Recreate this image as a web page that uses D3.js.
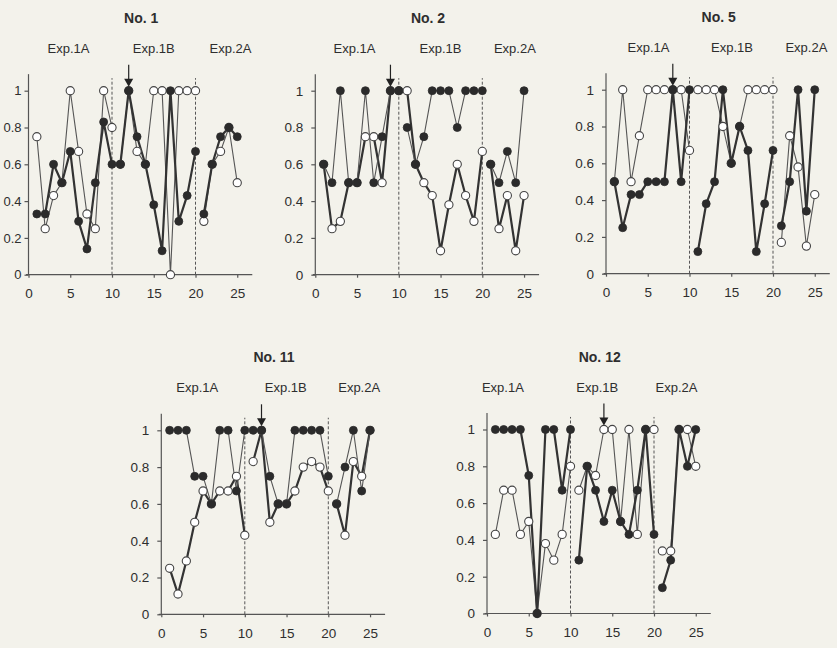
<!DOCTYPE html>
<html><head><meta charset="utf-8">
<script src="https://cdn.jsdelivr.net/npm/d3@7"></script>
<style>
html,body{margin:0;padding:0;background:#f3f2eb;}
svg{display:block;}
text{font-family:"Liberation Sans",Arial,sans-serif;fill:#2e2e2e;}
</style></head>
<body>
<svg id="chart" width="837" height="648"></svg>
<script>
const sessions = d3.range(1, 26);
const yTicks = [0, 0.2, 0.4, 0.6, 0.8, 1];
const xTicks = [0, 5, 10, 15, 20, 25];
const expLabels = ["Exp.1A", "Exp.1B", "Exp.2A"];
const panelTitles = ["No. 1", "No. 2", "No. 5", "No. 11", "No. 12"];

const no1Filled = [0.33,0.33,0.6,0.5,0.67,0.29,0.14,0.5,0.83,0.6, 0.6,1,0.75,0.6,0.38,0.13,1,0.29,0.43,0.67, 0.33,0.6,0.75,0.8,0.75];
const no1Open   = [0.75,0.25,0.43,0.5,1,0.67,0.33,0.25,1,0.8, 0.6,1,0.67,0.6,1,1,0,1,1,1, 0.29,0.6,0.67,0.8,0.5];
const no2Filled = [0.6,0.5,1,0.5,0.5,1,0.5,0.75,1,1, 0.8,0.6,0.75,1,1,1,0.8,1,1,1, 0.6,0.5,0.67,0.5,1];
const no2Open   = [0.6,0.25,0.29,0.5,0.5,0.75,0.75,0.5,1,1, 1,0.6,0.5,0.43,0.13,0.38,0.6,0.43,0.29,0.67, 0.6,0.25,0.43,0.13,0.43];
const no5Filled = [0.5,0.25,0.43,0.43,0.5,0.5,0.5,1,0.5,1, 0.12,0.38,0.5,1,0.6,0.8,0.67,0.12,0.38,0.67, 0.26,0.5,1,0.34,1];
const no5Open   = [0.5,1,0.5,0.75,1,1,1,1,1,0.67, 1,1,1,0.8,0.6,0.8,1,1,1,1, 0.17,0.75,0.58,0.15,0.43];
const no11Filled = [1,1,1,0.75,0.75,0.6,1,1,0.67,1, 1,1,0.75,0.6,0.6,1,1,1,1,0.75, 0.6,0.8,1,0.67,1];
const no11Open   = [0.25,0.11,0.29,0.5,0.67,0.6,0.67,0.67,0.75,0.43, 0.83,1,0.5,0.6,0.6,0.67,0.8,0.83,0.8,0.67, 0.6,0.43,0.83,0.75,1];
const no12Filled = [1,1,1,1,0.75,0,1,1,0.67,1, 0.29,0.8,0.67,0.5,0.67,0.5,0.43,0.67,1,0.43, 0.14,0.29,1,0.8,1];
const no12Open   = [0.43,0.67,0.67,0.43,0.5,0,0.38,0.29,0.43,0.8, 0.67,0.8,0.75,1,1,0.5,1,0.43,1,1, 0.34,0.34,1,1,0.8];

const arrowSessions = [12, 9, 8, 12, 14];
const expLabelPos = [[4.8,15,24.2],[4.7,15,23.9],[5.1,15.1,24],[4.3,14.9,23.7],[1.9,13.2,22.7]];

const panels = [
  {title: panelTitles[0], filled: no1Filled, open: no1Open, arrow: arrowSessions[0], exp: expLabelPos[0], ox: 28.5, oy: 274.7, thick: "filled", yPad: 3, yFont: 13},
  {title: panelTitles[1], filled: no2Filled, open: no2Open, arrow: arrowSessions[1], exp: expLabelPos[1], ox: 315.3, oy: 274.7, thick: "open", yPad: 8, yFont: 13.5},
  {title: panelTitles[2], filled: no5Filled, open: no5Open, arrow: arrowSessions[2], exp: expLabelPos[2], ox: 606, oy: 273.7, thick: "filled", yPad: 8, yFont: 13.5},
  {title: panelTitles[3], filled: no11Filled, open: no11Open, arrow: arrowSessions[3], exp: expLabelPos[3], ox: 161.3, oy: 614.3, thick: "open", yPad: 8, yFont: 13.5},
  {title: panelTitles[4], filled: no12Filled, open: no12Open, arrow: arrowSessions[4], exp: expLabelPos[4], ox: 487, oy: 613.5, thick: "filled", yPad: 8, yFont: 13.5}
];

const svg = d3.select("#chart");
const unitX = 8.35, unitY = 184;
const xMin = -0.3, xMax = 26.8, yMax = 1.09;

function segOf(s){ return s <= 10 ? 0 : (s <= 20 ? 1 : 2); }

panels.forEach((p, pi) => {
  const x = d3.scaleLinear().domain([0, 1]).range([p.ox, p.ox + unitX]);
  const y = d3.scaleLinear().domain([0, 1]).range([p.oy, p.oy - unitY]);
  const g = svg.append("g");

  g.append("text").attr("x", x(13.5)).attr("y", y(0) - 252)
    .attr("text-anchor", "middle").attr("font-size", 14).attr("font-weight", "bold").text(p.title);
  expLabels.forEach((t, i) => {
    g.append("text").attr("x", x(p.exp[i])).attr("y", y(0) - 222)
      .attr("text-anchor", "middle").attr("font-size", 13).text(t);
  });

  const xAxis = d3.axisBottom(x).tickValues(xTicks).tickFormat(d3.format("d")).tickSize(3).tickPadding(11).tickSizeOuter(0);
  const yAxis = d3.axisLeft(y).tickValues(yTicks).tickFormat(d => d === 0 || d === 1 ? String(d) : d3.format(".1f")(d)).tickSize(4).tickPadding(p.yPad).tickSizeOuter(0);
  const xa = g.append("g").attr("transform", `translate(0,${y(0)})`).call(xAxis);
  xa.select(".domain").attr("d", `M${x(xMin)},0H${x(xMax)}`);
  const ya = g.append("g").attr("transform", `translate(${x(0)},0)`).call(yAxis);
  ya.select(".domain").attr("d", `M0,${y(0)}V${y(yMax)}`);
  [xa, ya].forEach(a => {
    a.selectAll(".domain, line").attr("stroke", "#555").attr("stroke-width", 1.2);
    a.selectAll("text").attr("font-size", 13.5).attr("fill", "#2e2e2e").attr("font-family", "Liberation Sans, Arial, sans-serif");
  });
  ya.selectAll("text").attr("font-size", p.yFont);

  [10, 20].forEach(v => {
    g.append("line").attr("x1", x(v)).attr("x2", x(v)).attr("y1", y(0)).attr("y2", y(yMax) + 4)
      .attr("stroke", "#555").attr("stroke-width", 1).attr("stroke-dasharray", "3,2");
  });

  const line = d3.line().x(d => x(d.s)).y(d => y(d.v));
  const drawLines = (vals, w, col) => {
    [0, 1, 2].forEach(k => {
      const pts = sessions.map((s, i) => ({s, v: vals[i]})).filter(d => segOf(d.s) === k && d.v != null);
      g.append("path").attr("d", line(pts)).attr("fill", "none").attr("stroke", col).attr("stroke-width", w).attr("stroke-linejoin", "round");
    });
  };
  drawLines(p.open, p.thick === "open" ? 2.2 : 1.1, p.thick === "open" ? "#333" : "#555");
  drawLines(p.filled, p.thick === "filled" ? 2.2 : 1.1, p.thick === "filled" ? "#333" : "#555");

  g.selectAll(null).data(sessions.map((s, i) => ({s, v: p.open[i]}))).enter().append("circle")
    .attr("cx", d => x(d.s)).attr("cy", d => y(d.v)).attr("r", 4.1)
    .attr("fill", "#ffffff").attr("stroke", "#444").attr("stroke-width", 1.1);
  g.selectAll(null).data(sessions.map((s, i) => ({s, v: p.filled[i]}))).enter().append("circle")
    .attr("cx", d => x(d.s)).attr("cy", d => y(d.v)).attr("r", 4)
    .attr("fill", "#2b2b2b").attr("stroke", "#2b2b2b").attr("stroke-width", 0.8);

  const ax = x(p.arrow), tip = y(1) - 4;
  g.append("line").attr("x1", ax).attr("x2", ax).attr("y1", tip - 22).attr("y2", tip - 6)
    .attr("stroke", "#222").attr("stroke-width", 1.2);
  g.append("path").attr("d", `M${ax-4.5},${tip-8}L${ax+4.5},${tip-8}L${ax},${tip}Z`).attr("fill", "#222");
});
</script>
</body></html>
